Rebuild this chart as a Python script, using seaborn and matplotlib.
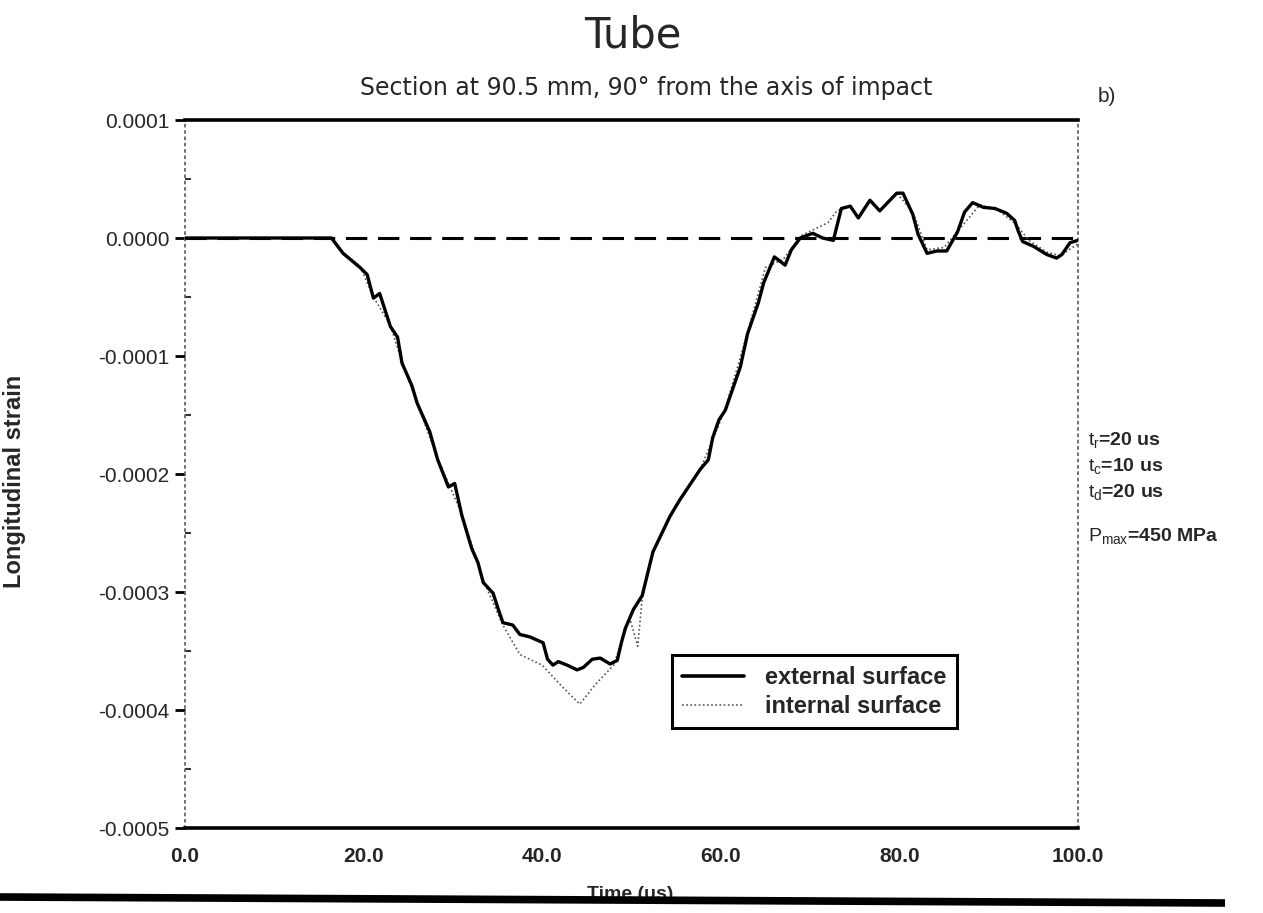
import numpy as np
import pandas as pd
import matplotlib
matplotlib.use("Agg")
import matplotlib.pyplot as plt
from matplotlib.lines import Line2D
from matplotlib.ticker import MultipleLocator
import seaborn as sns

# ---------------- data ----------------
ext_time = [0, 16.4, 17.7, 19.6, 20.4, 21.1, 21.8, 23.0, 23.8, 24.3, 25.4, 26.0,
            27.4, 28.3, 29.5, 30.2, 31.0, 32.1, 32.8, 33.4, 34.5, 35.1, 35.6, 36.7,
            37.5, 38.6, 40.1, 40.6, 41.2, 41.8, 42.8, 43.9, 44.6, 45.6, 46.5, 47.6,
            48.4, 48.9, 49.3, 50.2, 51.2, 52.4, 54.3, 55.4, 57.7, 58.6, 59.1, 59.8,
            60.5, 62.2, 63.0, 64.2, 64.8, 66.0, 67.2, 67.9, 68.9, 70.3, 71.4, 72.6,
            73.5, 74.5, 75.4, 76.7, 77.8, 79.7, 80.4, 81.5, 82.1, 83.1, 84.2, 85.3,
            86.5, 87.3, 88.2, 89.4, 90.7, 92.0, 92.9, 93.3, 93.8, 95.0, 96.5, 97.6,
            98.2, 99.1, 100.0]
ext_strain = [0, 0, -0.13e-4, -0.25e-4, -0.31e-4, -0.51e-4, -0.47e-4, -0.75e-4, -0.84e-4,
              -1.06e-4, -1.25e-4, -1.40e-4, -1.64e-4, -1.88e-4, -2.11e-4, -2.08e-4,
              -2.35e-4, -2.63e-4, -2.75e-4, -2.92e-4, -3.01e-4, -3.15e-4, -3.26e-4,
              -3.28e-4, -3.36e-4, -3.38e-4, -3.43e-4, -3.57e-4, -3.62e-4, -3.59e-4,
              -3.62e-4, -3.66e-4, -3.64e-4, -3.57e-4, -3.56e-4, -3.61e-4, -3.58e-4,
              -3.42e-4, -3.31e-4, -3.15e-4, -3.03e-4, -2.66e-4, -2.36e-4, -2.22e-4,
              -1.96e-4, -1.88e-4, -1.69e-4, -1.54e-4, -1.46e-4, -1.09e-4, -0.81e-4,
              -0.55e-4, -0.38e-4, -0.16e-4, -0.23e-4, -0.10e-4, 0.0, 0.04e-4, 0.0,
              -0.02e-4, 0.25e-4, 0.27e-4, 0.17e-4, 0.32e-4, 0.23e-4, 0.38e-4, 0.38e-4,
              0.20e-4, 0.03e-4, -0.13e-4, -0.11e-4, -0.11e-4, 0.05e-4, 0.22e-4,
              0.30e-4, 0.26e-4, 0.25e-4, 0.21e-4, 0.15e-4, 0.06e-4, -0.03e-4,
              -0.07e-4, -0.14e-4, -0.17e-4, -0.14e-4, -0.04e-4, -0.02e-4]

int_time = [0, 16.4, 17.7, 19.6, 21.1, 23.0, 24.3, 26.0, 28.3, 31.0, 33.4, 35.6,
            37.5, 40.0, 42.2, 44.2, 46.0, 48.0, 49.8, 50.7, 51.2, 52.4, 54.3, 57.7,
            60.5, 63.0, 65.0, 67.0, 69.0, 72.0, 73.0, 74.5, 75.4, 76.7, 77.8, 79.7,
            81.5, 83.1, 85.0, 87.0, 89.0, 91.0, 93.0, 94.5, 96.5, 98.0, 100.0]
int_strain = [0, 0, -0.12e-4, -0.24e-4, -0.50e-4, -0.74e-4, -1.05e-4, -1.40e-4,
              -1.87e-4, -2.34e-4, -2.90e-4, -3.28e-4, -3.53e-4, -3.62e-4, -3.80e-4,
              -3.95e-4, -3.78e-4, -3.62e-4, -3.22e-4, -3.46e-4, -3.05e-4, -2.66e-4,
              -2.36e-4, -1.96e-4, -1.45e-4, -0.80e-4, -0.25e-4, -0.18e-4, 0.02e-4,
              0.13e-4, 0.23e-4, 0.27e-4, 0.17e-4, 0.32e-4, 0.23e-4, 0.38e-4, 0.22e-4,
              -0.10e-4, -0.08e-4, 0.10e-4, 0.28e-4, 0.24e-4, 0.12e-4, -0.02e-4,
              -0.12e-4, -0.15e-4, -0.05e-4]

series_names = ["external surface", "internal surface"]
x_ticks = [0.0, 20.0, 40.0, 60.0, 80.0, 100.0]
y_ticks = [0.0001, 0.0, -0.0001, -0.0002, -0.0003, -0.0004, -0.0005]
y_tick_labels = ["0.0001", "0.0000", "-0.0001", "-0.0002", "-0.0003", "-0.0004", "-0.0005"]
title = "Tube"
subtitle = "Section at 90.5 mm, 90° from the axis of impact"
xlabel = "Time (us)"
ylabel = "Longitudinal strain"
side_notes = ["$t_r$=20 us", "$t_c$=10 us", "$t_d$=20 us", "$P_{max}$=450 MPa"]

# ---------------- build table ----------------
df = pd.concat([
    pd.DataFrame({"time": ext_time, "strain": ext_strain, "surface": series_names[0]}),
    pd.DataFrame({"time": int_time, "strain": int_strain, "surface": series_names[1]}),
], ignore_index=True)

sns.set_theme(style="white")
plt.rcParams["font.family"] = ["Liberation Sans", "DejaVu Sans"]
plt.rcParams["mathtext.fontset"] = "custom"
plt.rcParams["mathtext.rm"] = "Liberation Sans"
plt.rcParams["mathtext.it"] = "Liberation Sans"

W, H = 1263, 913
fig = plt.figure(figsize=(W / 100, H / 100), dpi=100)
ax = fig.add_axes([185 / W, 1 - 828 / H, (1078 - 185) / W, (828 - 120) / H])

# zero reference line
ax.axhline(0.0, color="black", lw=2.2, dashes=(7, 3.5), zorder=1)

sns.lineplot(data=df, x="time", y="strain", hue="surface", style="surface",
             palette={series_names[0]: "black", series_names[1]: "#555555"},
             dashes={series_names[0]: "", series_names[1]: (1, 1.5)},
             ax=ax, legend=False, estimator=None, sort=False)
lines = ax.get_lines()
lines[1].set_linewidth(2.4)
lines[2].set_linewidth(1.2)
lines[1].set_zorder(3)
lines[2].set_zorder(2)

ax.set_xlim(0, 100)
ax.set_ylim(-0.0005, 0.0001)
ax.set_xticks(x_ticks)
ax.set_xticklabels([f"{v:.1f}" for v in x_ticks], fontsize=15, fontweight="bold")
ax.set_yticks(y_ticks)
ax.set_yticklabels(y_tick_labels, fontsize=15)
ax.yaxis.set_minor_locator(MultipleLocator(0.00005))
ax.tick_params(axis="x", which="both", length=0, pad=14)
ax.tick_params(axis="y", which="major", direction="out", length=7, width=2,
               color="black", pad=4, left=True)
ax.tick_params(axis="y", which="minor", direction="in", length=4, width=1.5,
               color="#333333", left=True)

for side in ["top", "bottom"]:
    ax.spines[side].set_color("black")
    ax.spines[side].set_linewidth(2.6)
for side in ["left", "right"]:
    ax.spines[side].set_color("#666666")
    ax.spines[side].set_linewidth(1.3)
    ax.spines[side].set_linestyle((0, (1, 2.5)))

ax.set_xlabel(xlabel, fontsize=14, fontweight="bold")
ax.xaxis.set_label_coords(0.498, -0.082)
ax.set_ylabel(ylabel, fontsize=17, fontweight="bold")
ax.yaxis.set_label_coords(-0.178, 0.49)

handles = [Line2D([], [], color="black", lw=2.6),
           Line2D([], [], color="#555555", lw=1.2, dashes=(1, 1.5))]
leg = ax.legend(handles, series_names, loc="upper left", bbox_to_anchor=(0.545, 0.244),
                borderaxespad=0, frameon=True, fancybox=False, edgecolor="black",
                framealpha=1, prop={"weight": "bold", "size": 17}, handlelength=2.6,
                handletextpad=0.9, borderpad=0.45, labelspacing=0.25)
leg.get_frame().set_linewidth(2.2)

fig.text(633 / W, 1 - 36 / H, title, ha="center", va="center", fontsize=30,
         family="DejaVu Sans")
fig.text(646 / W, 1 - 88 / H, subtitle, ha="center", va="center", fontsize=17,
         family="DejaVu Sans")
fig.text(1098 / W, 1 - 96 / H, "b)", ha="left", va="center", fontsize=15)

note_y = [440, 466, 492, 536]
for txt, yy in zip(side_notes, note_y):
    fig.text(1088 / W, 1 - yy / H, txt, ha="left", va="center", fontsize=14, fontweight="bold")

# scan edge artefact at the bottom of the page
fig.add_artist(Line2D([0, 1225 / W], [1 - 897 / H, 1 - 903 / H], transform=fig.transFigure,
                      color="black", lw=5.5, solid_capstyle="butt"))

fig.savefig("out.png", dpi=100, facecolor="white")
